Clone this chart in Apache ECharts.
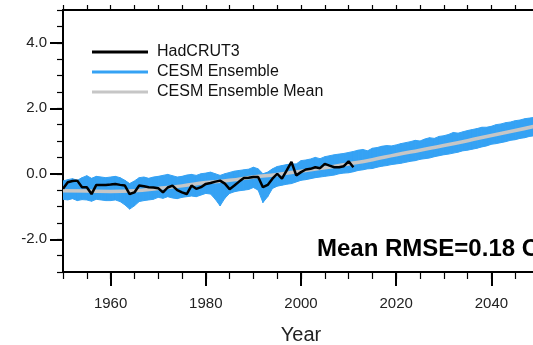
<!DOCTYPE html>
<html>
<head>
<meta charset="utf-8">
<script src="https://cdn.jsdelivr.net/npm/echarts@6/dist/echarts.min.js"></script>
<style>
html, body { margin: 0; padding: 0; background: #fff; }
#chart { width: 533px; height: 345px; }
</style>
</head>
<body>
<div id="chart"></div>
<script>
// observed annual anomaly, 1950..2011
var hadStart = 1950;
var hadcrut = [
    -0.46, -0.26, -0.22, -0.21, -0.41, -0.41, -0.62, -0.34, -0.34, -0.34,
    -0.33, -0.31, -0.34, -0.36, -0.62, -0.57, -0.36, -0.38, -0.41, -0.42,
    -0.44, -0.57, -0.42, -0.36, -0.50, -0.57, -0.62, -0.36, -0.46, -0.41,
    -0.31, -0.28, -0.24, -0.21, -0.30, -0.47, -0.36, -0.24, -0.13, -0.12,
    -0.10, -0.10, -0.41, -0.34, -0.15, 0.00, -0.15, 0.10, 0.36, -0.05,
    0.05, 0.13, 0.15, 0.20, 0.17, 0.30, 0.25, 0.20, 0.20, 0.23,
    0.38, 0.20
];

// ensemble spread (top / bottom of the blue band), 1950..2050
var ensStart = 1950;
var ensUpper = [
    -0.22, -0.18, -0.15, -0.20, -0.12, -0.06, -0.14, -0.08, -0.10, -0.12,
    -0.10, -0.08, -0.12, -0.20, -0.30, -0.22, -0.12, -0.10, -0.14, -0.10,
    -0.08, -0.05, -0.02, -0.06, -0.10, -0.08, -0.04, -0.02, -0.05, 0.00,
    0.02, 0.05, 0.00, -0.05, 0.00, 0.04, 0.08, 0.10, 0.12, 0.14,
    0.20, 0.15, 0.00, 0.05, 0.15, 0.22, 0.25, 0.28, 0.30, 0.30,
    0.40, 0.42, 0.45, 0.50, 0.46, 0.52, 0.55, 0.58, 0.60, 0.62,
    0.65, 0.68, 0.72, 0.74, 0.70, 0.78, 0.80, 0.84, 0.86, 0.85,
    0.88, 0.92, 0.95, 0.98, 1.02, 1.00, 1.06, 1.10, 1.08, 1.14,
    1.16, 1.20, 1.26, 1.24, 1.28, 1.32, 1.35, 1.38, 1.42, 1.42,
    1.45, 1.50, 1.52, 1.56, 1.58, 1.62, 1.64, 1.68, 1.70, 1.72,
    1.75
];
var ensLower = [
    -0.78, -0.80, -0.76, -0.82, -0.79, -0.80, -0.84, -0.78, -0.80, -0.82,
    -0.82, -0.80, -0.85, -0.95, -1.08, -0.98, -0.85, -0.82, -0.80, -0.78,
    -0.72, -0.75, -0.70, -0.74, -0.76, -0.72, -0.70, -0.68, -0.70, -0.65,
    -0.60, -0.62, -0.78, -0.98, -0.75, -0.60, -0.55, -0.52, -0.50, -0.48,
    -0.42, -0.50, -0.88, -0.70, -0.45, -0.38, -0.35, -0.32, -0.30, -0.25,
    -0.20, -0.18, -0.15, -0.12, -0.10, -0.08, -0.06, -0.04, 0.00, 0.02,
    0.03, 0.06, 0.10, 0.12, 0.15, 0.16, 0.20, 0.23, 0.25, 0.28,
    0.30, 0.32, 0.35, 0.38, 0.40, 0.44, 0.46, 0.48, 0.52, 0.55,
    0.58, 0.60, 0.63, 0.66, 0.70, 0.72, 0.75, 0.78, 0.82, 0.85,
    0.90, 0.92, 0.95, 0.98, 1.02, 1.04, 1.08, 1.10, 1.14, 1.16,
    1.20
];

// ensemble mean, every 5 years
var meanYears = [1950, 1955, 1960, 1965, 1970, 1975, 1980, 1985, 1990, 1995, 2000,
                 2005, 2010, 2015, 2020, 2025, 2030, 2035, 2040, 2045, 2050];
var meanVals = [-0.52, -0.53, -0.54, -0.52, -0.45, -0.37, -0.27, -0.20, -0.10, -0.02, 0.08,
                0.18, 0.30, 0.43, 0.58, 0.72, 0.86, 1.01, 1.17, 1.32, 1.48];

var yearLabels = [1960, 1980, 2000, 2020, 2040];
var valueLabels = [-2, 0, 2, 4];

var blue = '#35A2F4';
var font = 'Liberation Sans, Arial, Helvetica, sans-serif';

// one item per year: [year, lower, upper]
var bandData = ensUpper.map(function (v, i) { return [ensStart + i, ensLower[i], v]; });
var hadData = hadcrut.map(function (v, i) { return [hadStart + i, v]; });
var meanData = meanYears.map(function (y, i) { return [y, meanVals[i]]; });

// band segment between year i and year i+1
function renderBand(params, api) {
    var i = params.dataIndex;
    if (i >= bandData.length - 1) return null;
    var a = bandData[i], b = bandData[i + 1];
    var pts = [
        api.coord([a[0], a[2]]), api.coord([b[0], b[2]]),
        api.coord([b[0], b[1]]), api.coord([a[0], a[1]])
    ];
    return {
        type: 'polygon',
        shape: {points: pts},
        style: {fill: blue, stroke: blue, lineWidth: 1}
    };
}

var chart = echarts.init(document.getElementById('chart'), null, {renderer: 'canvas'});
chart.setOption({
    animation: false,
    backgroundColor: '#fff',
    textStyle: {fontFamily: font},
    title: {
        text: 'Mean RMSE=0.18 C',
        left: 317,
        top: 237,
        padding: 0,
        textStyle: {fontSize: 24, fontWeight: 'bold', color: '#000', fontFamily: font}
    },
    legend: {
        orient: 'vertical',
        left: 92,
        top: 43,
        padding: 0,
        itemGap: 2,
        itemWidth: 56,
        itemHeight: 3,
        icon: 'rect',
        itemStyle: {borderWidth: 0, borderColor: 'rgba(0,0,0,0)'},
        data: ['HadCRUT3', 'CESM Ensemble', 'CESM Ensemble Mean'],
        textStyle: {fontSize: 16, color: '#111', lineHeight: 18, padding: [0, 0, 0, 4], fontFamily: font}
    },
    grid: {left: 63, top: 10, width: 476, height: 262, containLabel: false, outerBoundsMode: 'none'},
    xAxis: [{
        type: 'value', position: 'bottom', min: 1950, max: 2050, interval: 5,
        axisLine: {onZero: false, lineStyle: {color: '#000', width: 2}},
        axisTick: {length: 7, lineStyle: {color: '#000', width: 1.2}},
        axisLabel: {show: false},
        splitLine: {show: false}
    }, {
        type: 'value', position: 'bottom', min: 1950, max: 2050,
        name: 'Year', nameLocation: 'middle', nameGap: 53,
        nameTextStyle: {fontSize: 20, color: '#222', fontFamily: font},
        axisLine: {show: false, onZero: false},
        axisTick: {length: 14, customValues: yearLabels, lineStyle: {color: '#000', width: 2}},
        axisLabel: {
            customValues: yearLabels, margin: 24, fontSize: 15, color: '#222', fontFamily: font,
            formatter: function (v) { return String(v); }
        },
        splitLine: {show: false}
    }, {
        type: 'value', position: 'top', min: 1950, max: 2050, interval: 5,
        axisLine: {onZero: false, lineStyle: {color: '#000', width: 2}},
        axisTick: {length: 5, lineStyle: {color: '#000', width: 1.2}},
        axisLabel: {show: false},
        splitLine: {show: false}
    }],
    yAxis: [{
        type: 'value', position: 'left', min: -3, max: 5, interval: 0.5,
        axisLine: {show: true, onZero: false, lineStyle: {color: '#000', width: 2}},
        axisTick: {show: true, length: 6, lineStyle: {color: '#000', width: 1.2}},
        axisLabel: {show: false},
        splitLine: {show: false}
    }, {
        type: 'value', position: 'left', min: -3, max: 5,
        axisLine: {show: false, onZero: false},
        axisTick: {show: true, length: 13, customValues: valueLabels, lineStyle: {color: '#000', width: 2}},
        axisLabel: {
            customValues: valueLabels, margin: 16, fontSize: 15, color: '#222', fontFamily: font,
            formatter: function (v) { return v.toFixed(1); }
        },
        splitLine: {show: false}
    }],
    series: [{
        name: 'CESM Ensemble',
        type: 'custom',
        renderItem: renderBand,
        encode: {x: 0, y: [1, 2]},
        data: bandData,
        itemStyle: {color: blue, borderColor: 'rgba(0,0,0,0)', borderWidth: 0},
        clip: true,
        silent: true
    }, {
        name: 'CESM Ensemble Mean',
        type: 'line',
        data: meanData,
        smooth: true,
        symbol: 'none',
        itemStyle: {color: '#C6C6C6'},
        lineStyle: {width: 3.5, color: '#C6C6C6'}
    }, {
        name: 'HadCRUT3',
        type: 'line',
        data: hadData,
        symbol: 'none',
        itemStyle: {color: '#000'},
        lineStyle: {width: 2.5, color: '#000'}
    }]
});
</script>
</body>
</html>
